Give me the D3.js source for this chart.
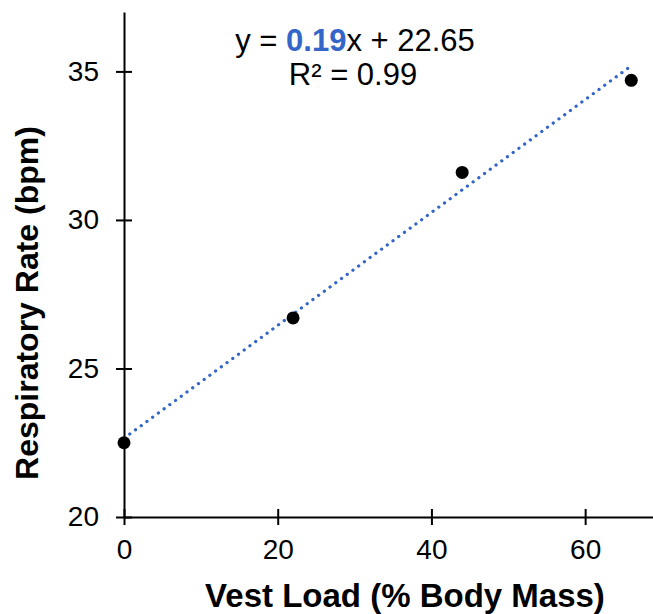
<!DOCTYPE html>
<html>
<head>
<meta charset="utf-8">
<script src="https://cdn.jsdelivr.net/npm/d3@7"></script>
<style>
  body { margin: 0; background: #fff; }
  svg { font-family: "Liberation Sans", Arial, sans-serif; display: block; }
  .tick text { font-size: 28px; fill: #000; }
  .domain, .tick line { stroke: #000; stroke-width: 2; }
</style>
</head>
<body>
<svg id="chart" width="653" height="614"></svg>
<script>
// data
const vestLoad = [0, 22, 44, 66];
const respRate = [22.5, 26.7, 31.6, 34.7];
const xTicks = [0, 20, 40, 60];
const yTicks = [20, 25, 30, 35];
const slope = 0.19;
const intercept = 22.65;
const rSquared = 0.99;

const svg = d3.select("svg#chart");

const xScale = d3.scaleLinear().domain([0, 70]).range([124, 662]);
const yScale = d3.scaleLinear().domain([20, 37]).range([517, 12]);

// axes, ticks cross the axis line
const xAxis = svg.append('g')
    .attr('transform', `translate(0, ${yScale(20)})`)
    .call(d3.axisBottom(xScale).tickValues(xTicks).tickSize(8).tickSizeOuter(0).tickPadding(14));
xAxis.selectAll('.tick line').attr('y1', -8);

const yAxis = svg.append('g')
    .attr('transform', `translate(${xScale(0)}, 0)`)
    .call(d3.axisLeft(yScale).tickValues(yTicks).tickSize(8).tickSizeOuter(0).tickPadding(17));
yAxis.selectAll('.tick line').attr('x1', 8);

// trend line
const line = d3.line()
    .x(d => xScale(d))
    .y(d => yScale(slope * d + intercept));
svg.append('path')
    .datum([0, 66])
    .attr('d', line)
    .attr('fill', 'none')
    .attr('stroke', '#3366c8')
    .attr('stroke-width', 3.2)
    .attr('stroke-linecap', 'round')
    .attr('stroke-dasharray', '0.1,7');

// points
svg.selectAll('circle.pt')
    .data(vestLoad.map((x, i) => ({ x, y: respRate[i] })))
    .enter()
    .append('circle')
    .attr('class', 'pt')
    .attr('cx', d => xScale(d.x))
    .attr('cy', d => yScale(d.y))
    .attr('r', 6.5)
    .attr('fill', '#000');

// equation
const eq = svg.append('text')
    .attr('x', 355)
    .attr('y', 51)
    .attr('text-anchor', 'middle')
    .style('font-size', '31px');
eq.append('tspan').text('y = ');
eq.append('tspan').attr('fill', '#3366c8').attr('font-weight', 'bold').text(slope.toFixed(2));
eq.append('tspan').text('x + ' + intercept.toFixed(2));

svg.append('text')
    .attr('x', 353)
    .attr('y', 85)
    .attr('text-anchor', 'middle')
    .style('font-size', '31px')
    .text('R² = ' + rSquared.toFixed(2));

// axis titles
svg.append('text')
    .attr('x', 405)
    .attr('y', 607)
    .attr('text-anchor', 'middle')
    .style('font-size', '33px')
    .style('font-weight', 'bold')
    .text('Vest Load (% Body Mass)');

svg.append('text')
    .attr('transform', 'translate(38, 303) rotate(-90)')
    .attr('text-anchor', 'middle')
    .style('font-size', '32px')
    .style('font-weight', 'bold')
    .text('Respiratory Rate (bpm)');
</script>
</body>
</html>
